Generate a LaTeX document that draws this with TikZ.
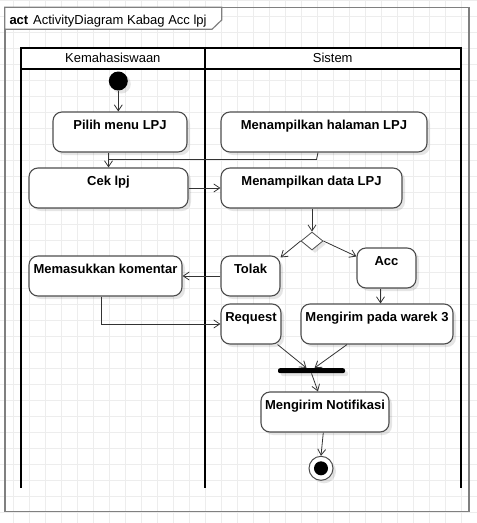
\documentclass[tikz,border=0pt]{standalone}
\usepackage{fontspec}
\setmainfont{Liberation Sans}
\usetikzlibrary{arrows.meta,shapes.geometric,shadows}
\definecolor{gridgrey}{HTML}{EDEDED}
\definecolor{framegrey}{HTML}{808080}
\definecolor{boxgrey}{HTML}{4D4D4D}
\definecolor{linedark}{HTML}{333333}
\begin{document}
\begin{tikzpicture}[x=1pt,y=-1pt,
    font=\fontsize{13}{15}\selectfont,
    soft/.style={drop shadow={shadow xshift=3pt,shadow yshift=-3pt,fill=black,opacity=0.1}},
    act/.style={draw=boxgrey, fill=white, rounded corners=9pt, line width=1.1pt, minimum height=40pt, inner sep=0pt, soft},
    acttext/.style={font=\fontsize{13}{15}\selectfont\bfseries, anchor=north, inner sep=0pt, yshift=-8.5pt},
    flow/.style={draw=linedark, line width=0.8pt, -{Straight Barb[length=6pt,width=8pt]}},
    lane/.style={line width=2pt}]
  \useasboundingbox (0,0) rectangle (477,523);
  % grid
  \foreach \gx in {13.3,29.3,...,477} \draw[gridgrey, line width=0.8pt] (\gx,0) -- (\gx,523);
  \foreach \gy in {0,16,...,523} \draw[gridgrey, line width=0.8pt] (0,\gy) -- (477,\gy);
  % frame
  \draw[framegrey, line width=1.6pt] (4.7,7.3) rectangle (469,511.5);
  \draw[framegrey, line width=1.2pt, fill=white] (4.7,7.3) -- (221.7,7.3) -- (221.7,20) -- (212,29.3) -- (4.7,29.3) -- cycle;
  \node[anchor=base west, inner sep=0pt] (actkey) at (9.3,24) {\textbf{act}};
  \node[anchor=base west, inner sep=0pt] (acttitle) at (33,24) {ActivityDiagram Kabag Acc lpj};
  % lanes
  \draw[lane, fill=white] (21,48.3) rectangle (460.7,69);
  \draw[lane] (21,69) -- (21,487.5);
  \draw[lane] (204.7,48.3) -- (204.7,487.5);
  \draw[lane] (460.7,69) -- (460.7,487.5);
  \node (lanemhs) at (112.8,57.5) {Kemahasiswaan};
  \node (lanesys) at (332.7,57.5) {Sistem};
  % nodes
  \node[circle, fill=black, minimum size=19pt, inner sep=0pt, soft] (start) at (118.3,81) {};
  \node[act, minimum width=134pt, label={[acttext]north:Pilih menu LPJ}] (pilih) at (120,132) {};
  \node[act, minimum width=206pt, label={[acttext]north:Menampilkan halaman LPJ}] (halaman) at (324,132) {};
  \node[act, minimum width=159pt, label={[acttext]north:Cek lpj}] (cek) at (108.5,188) {};
  \node[act, minimum width=181pt, label={[acttext]north:Menampilkan data LPJ}] (data) at (311.5,188) {};
  \node[diamond, draw=boxgrey, fill=white, line width=0.8pt, minimum width=22pt, minimum height=18pt, inner sep=0pt, soft] (decide) at (312,241) {};
  \node[act, minimum width=59pt, label={[acttext]north:Tolak}] (tolak) at (250.5,276) {};
  \node[act, minimum width=59pt, label={[acttext]north:Acc}] (acc) at (386.5,268) {};
  \node[act, minimum width=153pt, label={[acttext]north:Memasukkan komentar}] (komentar) at (105.5,276) {};
  \node[act, minimum width=60pt, label={[acttext]north:Request}] (request) at (251,324) {};
  \node[act, minimum width=152pt, label={[acttext]north:Mengirim pada warek 3}] (warek) at (377,324) {};
  \node[fill=black, rounded corners=2pt, minimum width=67pt, minimum height=5pt, inner sep=0pt, soft] (fork) at (311.5,370.7) {};
  \node[act, minimum width=128pt, label={[acttext]north:Mengirim Notifikasi}] (notif) at (325,412) {};
  \node[circle, draw=boxgrey, fill=white, line width=1pt, minimum size=24pt, inner sep=0pt, soft] (final) at (321,468.3) {};
  \fill (final.center) circle (7pt);
  % connectors
  \coordinate (join) at (108.5,159.5);
  \draw[flow] (start) -- (start |- pilih.north);
  \draw[flow] (pilih.south -| join) -- (cek.north);
  \draw[draw=linedark, line width=0.8pt] ([xshift=-6pt]halaman.south) -- ++(-1.5,7) -- (join);
  \draw[flow] (cek.east) -- (data.west);
  \draw[flow] (decide.north |- data.south) -- (decide.north);
  \draw[flow] (decide.west) -- ([yshift=-2pt]tolak.north east);
  \draw[flow] (decide.east) -- ([yshift=-9pt]acc.north west);
  \draw[flow] (tolak.west) -- (komentar.east);
  \draw[flow] ([xshift=-4.5pt]komentar.south) |- (request.west);
  \draw[flow] ([xshift=-6pt]acc.south) -- ([xshift=-6pt]acc.south |- warek.north);
  \draw[flow] ([xshift=-4pt]request.south east) -- ([xshift=-5pt]fork.north);
  \draw[flow] ([xshift=-30pt]warek.south) -- ([xshift=3pt]fork.north);
  \draw[flow] (fork.south) -- ([xshift=-7pt]notif.north);
  \draw[flow] ([xshift=-1.7pt]notif.south) -- (final.north);
\end{tikzpicture}
\end{document}
